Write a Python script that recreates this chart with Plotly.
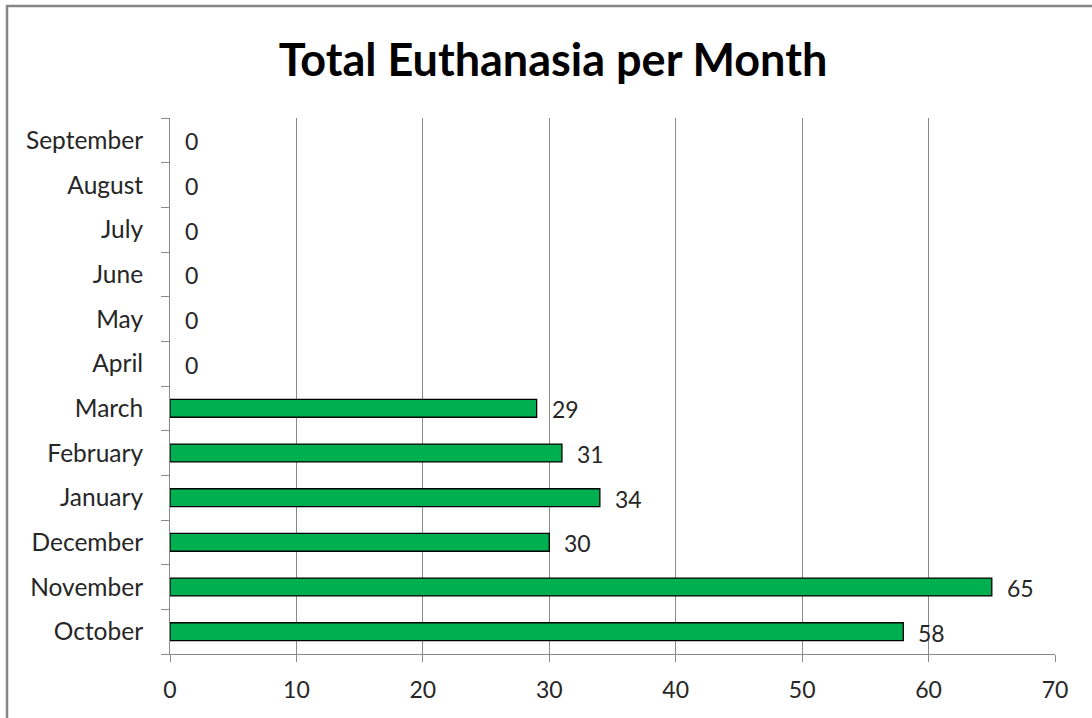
import plotly.graph_objects as go

months = ["October", "November", "December", "January", "February", "March",
          "April", "May", "June", "July", "August", "September"]
values = [58, 65, 30, 34, 31, 29, 0, 0, 0, 0, 0, 0]
x_ticks = [0, 10, 20, 30, 40, 50, 60, 70]
title_text = "Total Euthanasia per Month"

FONT = "Lato"
GRID = "#8a8a8a"
TXT = "#262626"

L, R_EDGE, T, B_EDGE = 170, 1055, 118, 654
W, H = 1092, 718
PW, PH = R_EDGE - L, B_EDGE - T

fig = go.Figure()
fig.add_trace(go.Bar(
    x=values, y=months, orientation="h",
    marker=dict(color="#00B050",
                line=dict(color="#000000", width=[1.3 if v > 0 else 0 for v in values])),
    width=0.4, hoverinfo="x+y",
))

for m, v in zip(months, values):
    fig.add_annotation(x=v, y=m, text=str(v), showarrow=False,
                       xanchor="left", yanchor="middle", xshift=13, yshift=-1,
                       font=dict(family=FONT, size=23, color=TXT))

fig.update_layout(
    width=W, height=H,
    margin=dict(l=L, r=W - R_EDGE, t=T, b=H - B_EDGE),
    paper_bgcolor="white", plot_bgcolor="white",
    showlegend=False,
    title=dict(text="<b>" + title_text + "</b>", x=553 / W, xref="container", xanchor="center",
               y=1 - 60 / H, yanchor="middle",
               font=dict(family=FONT, size=45, color="#000000")),
    xaxis=dict(range=[0, 70], tickvals=x_ticks, ticktext=[str(t) for t in x_ticks],
               showgrid=True, gridcolor=GRID, gridwidth=1,
               showline=True, linecolor=GRID, linewidth=1,
               ticks="outside", ticklen=7, tickcolor=GRID,
               ticklabelstandoff=8,
               tickfont=dict(family=FONT, size=23, color=TXT),
               zeroline=False, fixedrange=True),
    yaxis=dict(categoryorder="array", categoryarray=months,
               showline=True, linecolor=GRID, linewidth=1,
               ticks="outside", ticklen=8, tickcolor=GRID,
               tickson="boundaries",
               ticklabelstandoff=21,
               showgrid=False,
               tickfont=dict(family=FONT, size=24.5, color=TXT),
               fixedrange=True),
    shapes=[dict(type="rect", xref="paper", yref="paper",
                 x0=(7 - L) / PW, x1=(1110 - L) / PW,
                 y0=(B_EDGE - 740) / PH, y1=(B_EDGE - 6) / PH,
                 line=dict(color="#868686", width=2.5), fillcolor="rgba(0,0,0,0)",
                 layer="below")],
)

fig.write_html("out.html", config={"displayModeBar": False},
               post_script="document.body.style.margin='0px';document.body.style.padding='0px';")
